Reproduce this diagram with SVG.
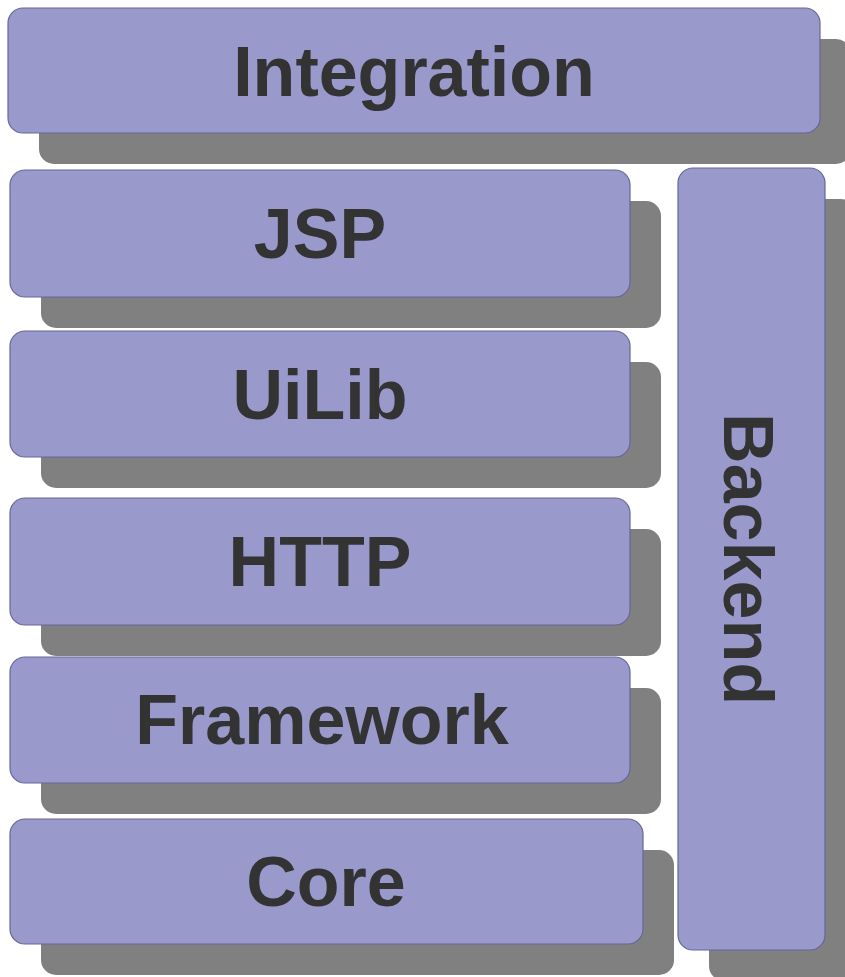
<svg xmlns="http://www.w3.org/2000/svg" width="845" height="977" viewBox="0 0 845 977">
<style>
.box{fill:#9999cc;stroke:#66669a;stroke-width:1.2}
.sh{fill:#808080}
.lbl{font-family:"Liberation Sans",Arial,sans-serif;font-weight:bold;font-size:70px;fill:#333333;text-anchor:middle}
</style>
<rect width="845" height="977" fill="#ffffff"/>
<g id="integration">
<rect class="sh" x="39" y="39" width="812" height="125" rx="15"/>
<rect class="box" x="8" y="8" width="812" height="125" rx="15"/>
<text class="lbl" x="414" y="96">Integration</text>
</g>
<g id="jsp">
<rect class="sh" x="41" y="201" width="620" height="127" rx="15"/>
<rect class="box" x="10" y="170" width="620" height="127" rx="15"/>
<text class="lbl" x="320" y="258">JSP</text>
</g>
<g id="uilib">
<rect class="sh" x="41" y="362" width="620" height="126" rx="15"/>
<rect class="box" x="10" y="331" width="620" height="126" rx="15"/>
<text class="lbl" x="320" y="419">UiLib</text>
</g>
<g id="http">
<rect class="sh" x="41" y="529" width="620" height="127" rx="15"/>
<rect class="box" x="10" y="498" width="620" height="127" rx="15"/>
<text class="lbl" x="320" y="586">HTTP</text>
</g>
<g id="framework">
<rect class="sh" x="41" y="688" width="620" height="126" rx="15"/>
<rect class="box" x="10" y="657" width="620" height="126" rx="15"/>
<text class="lbl" x="322" y="744">Framework</text>
</g>
<g id="core">
<rect class="sh" x="41" y="850" width="633" height="125" rx="15"/>
<rect class="box" x="10" y="819" width="633" height="125" rx="15"/>
<text class="lbl" x="326" y="906">Core</text>
</g>
<g id="backend">
<rect class="sh" x="709" y="199" width="147" height="782" rx="15"/>
<rect class="box" x="678" y="168" width="147" height="782" rx="15"/>
<text class="lbl" transform="translate(724,559) rotate(90)" x="0" y="0">Backend</text>
</g>
<g id="connectors"/>
</svg>
